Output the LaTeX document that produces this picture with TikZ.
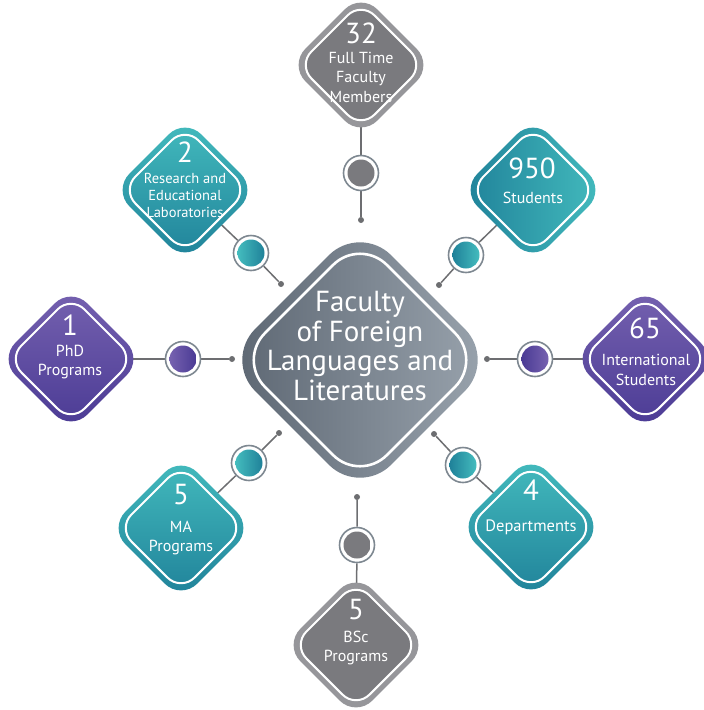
\documentclass[tikz,border=0pt]{standalone}
\usepackage{fontspec}
\setmainfont{PT Sans}
\usetikzlibrary{shapes.geometric, backgrounds}

\definecolor{tealA}{HTML}{44BCBE}
\definecolor{tealB}{HTML}{1F8199}
\definecolor{purpA}{HTML}{7662B0}
\definecolor{purpB}{HTML}{4A3A94}
\definecolor{grayA}{HTML}{96969A}
\definecolor{grayB}{HTML}{7A7A7E}
\definecolor{hubA}{HTML}{5B6571}
\definecolor{hubB}{HTML}{9BA5AF}
\definecolor{linkgray}{HTML}{6D6E71}
\definecolor{ringgray}{HTML}{7E8891}

\tikzset{
  hub/.style={diamond, aspect=1, inner sep=0pt, minimum size=272pt,
              rounded corners=44pt, left color=hubA, right color=hubB},
  hubline/.style={diamond, aspect=1, inner sep=0pt, minimum size=245pt,
              rounded corners=38pt, draw=white, line width=2.6pt},
  hubtext/.style={text=white, align=center, inner sep=0pt,
              font=\fontsize{29}{29.5}\selectfont},
  sat/.style={diamond, aspect=1, inner sep=0pt, minimum size=144pt,
              rounded corners=23pt},
  satline/.style={diamond, aspect=1, inner sep=0pt, minimum size=127pt,
              rounded corners=19pt, draw=white, line width=2pt},
  tealsat/.style={sat, top color=tealA, bottom color=tealB},
  purpsat/.style={sat, top color=purpA, bottom color=purpB},
  graysat/.style={sat, fill=grayA},
  grayline/.style={satline, fill=grayB},
  num/.style={text=white, inner sep=0pt, font=\fontsize{29}{29}\selectfont},
  lbl/.style={text=white, align=center, inner sep=0pt,
              font=\fontsize{16}{19.5}\selectfont},
  ring/.style={circle, draw=ringgray, line width=1.6pt, fill=white,
              minimum size=35pt, inner sep=0pt},
  bead/.style={circle, minimum size=27pt, inner sep=0pt},
  stub/.style={circle, fill=linkgray, minimum size=6pt, inner sep=0pt},
  link/.style={draw=linkgray, line width=1.5pt}
}

\begin{document}
\begin{tikzpicture}[x=1pt, y=-1pt]
\useasboundingbox (0,0) rectangle (704,710);
%
\node[hub] (hub) at (360,360) {};
\node[hubline] (hub-in) at (hub) {};
\node[hubtext] (hub-t) at (360,346) {Faculty\\of Foreign\\Languages and\\Literatures};
%
\node[graysat] (full) at (361,65) {};
\node[grayline] (full-in) at (full) {};
\node[num] (full-n) at (361,33) {32};
\node[lbl] (full-t) at (361,77) {Full Time\\Faculty\\Members};
%
\node[tealsat] (labs) at (185,190) {};
\node[satline] (labs-in) at (labs) {};
\node[num] (labs-n) at (185,152) {2};
\node[lbl, font=\fontsize{14.5}{17}\selectfont] (labs-t) at (185,195) {Research and\\Educational\\Laboratories};
%
\node[sat, left color=tealB, right color=tealA] (stud) at (533,190) {};
\node[satline] (stud-in) at (stud) {};
\node[num] (stud-n) at (532,168) {950};
\node[lbl] (stud-t) at (533,198) {Students};
%
\node[purpsat] (phd) at (71,359) {};
\node[satline] (phd-in) at (phd) {};
\node[num] (phd-n) at (70,325) {1};
\node[lbl] (phd-t) at (70,362) {PhD\\Programs};
%
\node[purpsat] (intl) at (645,359) {};
\node[satline] (intl-in) at (intl) {};
\node[num] (intl-n) at (645,328) {65};
\node[lbl] (intl-t) at (646,370) {International\\Students};
%
\node[tealsat] (ma) at (181,528) {};
\node[satline] (ma-in) at (ma) {};
\node[num] (ma-n) at (181,495) {5};
\node[lbl] (ma-t) at (181,538) {MA\\Programs};
%
\node[tealsat] (dept) at (531,527) {};
\node[satline] (dept-in) at (dept) {};
\node[num] (dept-n) at (531,490) {4};
\node[lbl, font=\fontsize{16.5}{19}\selectfont] (dept-t) at (531,527) {Departments};
%
\node[graysat] (bsc) at (356,645) {};
\node[grayline] (bsc-in) at (bsc) {};
\node[num] (bsc-n) at (356,610) {5};
\node[lbl] (bsc-t) at (356,648) {BSc\\Programs};
%
\foreach \s/\rx/\ry/\dx/\dy/\lc/\rc in {
  full/361/173/361/220/grayB/grayB,
  labs/251/253/281/284/tealA/tealB,
  stud/466/255/439/285/tealB/tealA,
  phd/183/359/232/359/purpA/purpB,
  intl/535/359/487/359/purpB/purpA,
  ma/249/463/279/433/tealA/tealB,
  dept/463/465/434/434/tealB/tealA,
  bsc/357/545/357/497/grayB/grayB}
{
  \node[ring] (\s-ring) at (\rx,\ry) {};
  \node[bead, left color=\lc, right color=\rc] (\s-bead) at (\s-ring) {};
  \node[stub] (\s-stub) at (\dx,\dy) {};
  \begin{scope}[on background layer]
    \draw[link] (\s-stub) -- (\s-ring) -- (\s.center);
  \end{scope}
}
\end{tikzpicture}
\end{document}
